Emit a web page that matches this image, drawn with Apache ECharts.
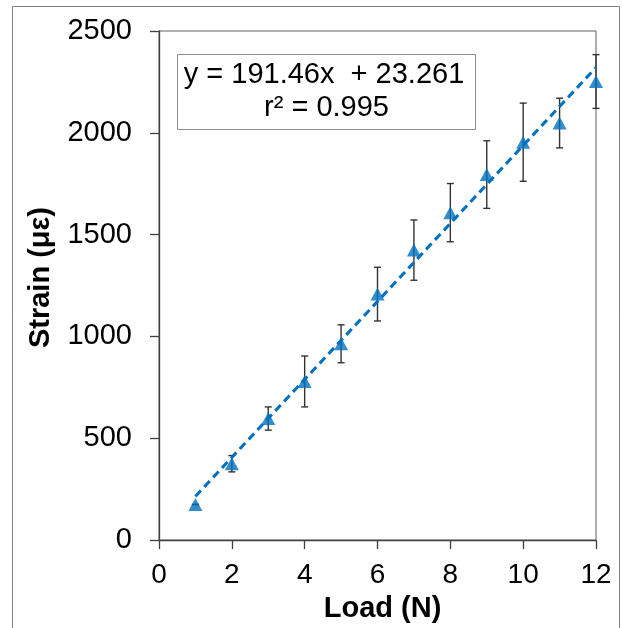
<!DOCTYPE html>
<html>
<head>
<meta charset="utf-8">
<script src="https://cdn.jsdelivr.net/npm/echarts@6/dist/echarts.min.js"></script>
<style>html,body{margin:0;padding:0;background:#fff}#c{width:623px;height:628px}</style>
</head>
<body>
<div id="c"></div>
<script>
// Data
var loads = [1, 2, 3, 4, 5, 6, 7, 8, 9, 10, 11, 12];
var strainMean = [175, 375, 597, 779, 964, 1208, 1424, 1608, 1795, 1954, 2048, 2252];
var strainErr = [0, 40, 57, 125, 93, 132, 148, 143, 166, 192, 122, 132];
var trendX = [1, 12];
var trendY = [214.7, 2320.8];
var xTicks = [0, 2, 4, 6, 8, 10, 12];
var yTicks = [0, 500, 1000, 1500, 2000, 2500];
var eqLine1 = 'y = 191.46x  + 23.261';
var eqLine2 = 'r² = 0.995';

var font = '"Liberation Sans", Arial, sans-serif';
var blue = '#0070C0';
var axisCol = '#404040';

var chart = echarts.init(document.getElementById('c'), null, {renderer: 'canvas'});

var scatterData = loads.map(function (x, i) { return [x, strainMean[i]]; });
var errData = loads.map(function (x, i) { return [x, strainMean[i] - strainErr[i], strainMean[i] + strainErr[i]]; });
var trendData = trendX.map(function (x, i) { return [x, trendY[i]]; });

chart.setOption({
  animation: false,
  backgroundColor: '#fff',
  grid: {left: 159, top: 31, width: 437, height: 511, show: true, borderColor: '#606060', borderWidth: 1, containLabel: false},
  xAxis: {
    type: 'value', min: xTicks[0], max: xTicks[xTicks.length - 1], interval: 2,
    name: 'Load (N)', nameLocation: 'middle', nameGap: 51,
    nameTextStyle: {fontFamily: font, fontSize: 29, fontWeight: 'bold', color: '#000', padding: [0, 0, 0, 10]},
    axisLine: {show: true, lineStyle: {color: axisCol, width: 1.3}},
    axisTick: {show: true, inside: false, length: 9, lineStyle: {color: axisCol, width: 1.3}},
    axisLabel: {fontFamily: font, fontSize: 28, color: '#000', margin: 21, formatter: function (v) { return String(v); }},
    splitLine: {show: false}
  },
  yAxis: {
    type: 'value', min: yTicks[0], max: yTicks[yTicks.length - 1], interval: 500,
    name: 'Strain (με)', nameLocation: 'middle', nameGap: 104, nameRotate: 90,
    nameTextStyle: {fontFamily: font, fontSize: 29, fontWeight: 'bold', color: '#000', padding: [0, 0, 0, 16]},
    axisLine: {show: true, lineStyle: {color: axisCol, width: 1.3}},
    axisTick: {show: true, inside: false, length: 9, lineStyle: {color: axisCol, width: 1.3}},
    axisLabel: {fontFamily: font, fontSize: 29, color: '#000', margin: 27, formatter: function (v) { return String(v); }},
    splitLine: {show: false}
  },
  series: [
    {
      type: 'custom', z: 2,
      data: errData,
      renderItem: function (params, api) {
        var x = api.value(0);
        var lo = api.coord([x, api.value(1)]);
        var hi = api.coord([x, api.value(2)]);
        var c = 3.5;
        var st = {stroke: '#333', lineWidth: 1.4};
        return {type: 'group', children: [
          {type: 'line', shape: {x1: lo[0], y1: lo[1], x2: hi[0], y2: hi[1]}, style: st},
          {type: 'line', shape: {x1: lo[0] - c, y1: lo[1], x2: lo[0] + c, y2: lo[1]}, style: st},
          {type: 'line', shape: {x1: hi[0] - c, y1: hi[1], x2: hi[0] + c, y2: hi[1]}, style: st}
        ]};
      }
    },
    {
      type: 'scatter', z: 3,
      data: scatterData,
      symbol: 'triangle', symbolSize: [14, 13],
      itemStyle: {color: blue}
    },
    {
      type: 'line', z: 4,
      data: trendData,
      showSymbol: false, symbol: 'none',
      lineStyle: {color: blue, width: 3, type: [8, 5]}
    }
  ],
  graphic: [
    {type: 'rect', z: 0, silent: true, shape: {x: 12.5, y: 6.5, width: 607, height: 640}, style: {fill: 'none', stroke: '#808080', lineWidth: 1}},
    {type: 'rect', z: 10, shape: {x: 177.5, y: 54.5, width: 298, height: 75}, style: {fill: '#fff', stroke: '#8c8c8c', lineWidth: 1}},
    {type: 'text', z: 11, x: 324, y: 75, style: {text: eqLine1, font: '29px ' + font, fill: '#000', textAlign: 'center', textVerticalAlign: 'middle'}},
    {type: 'text', z: 11, x: 326.5, y: 108, style: {text: eqLine2, font: '29px ' + font, fill: '#000', textAlign: 'center', textVerticalAlign: 'middle'}}
  ]
});
</script>
</body>
</html>
